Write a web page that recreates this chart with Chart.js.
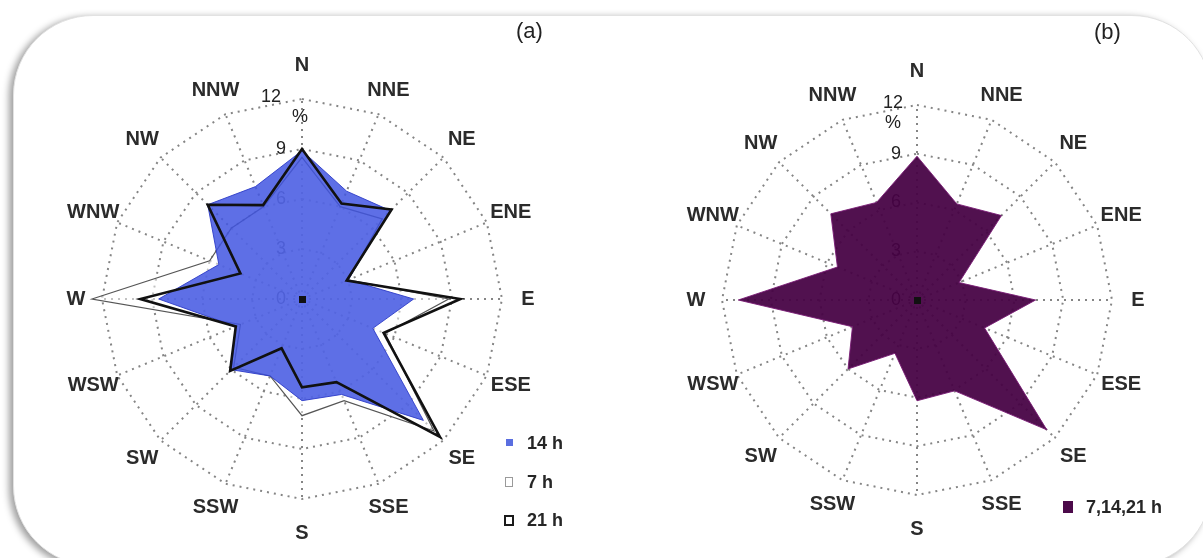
<!DOCTYPE html>
<html>
<head>
<meta charset="utf-8">
<script src="https://cdn.jsdelivr.net/npm/chart.js@4.4.1/dist/chart.umd.min.js"></script>
<style>
  html, body { margin: 0; padding: 0; background: #fff; }
  body { width: 1203px; height: 558px; position: relative; overflow: hidden;
         font-family: "Liberation Sans", Arial, sans-serif; }
  #frame { position: absolute; left: 13px; top: 15px; width: 1197px; height: 549px;
           border-radius: 80px; border: 1px solid #e2e2e2; background: #fff;
           box-shadow: -4px 2px 7px rgba(0,0,0,0.38); }
  canvas { position: absolute; top: 0; }
  #roseA { left: 0; }
  #roseB { left: 601px; }
  .tag { position: absolute; font-size: 22px; color: #222; line-height: 24px; }
  .key { position: absolute; height: 22px; line-height: 22px; font-size: 18px;
         font-weight: bold; color: #262626; white-space: nowrap; }
  .key i { position: absolute; box-sizing: border-box; }
</style>
</head>
<body>
<div id="frame"></div>
<canvas id="roseA" width="601" height="558"></canvas>
<canvas id="roseB" width="602" height="558"></canvas>

<div class="tag" style="left:516px; top:19px;">(a)</div>
<div class="tag" style="left:1094px; top:20px;">(b)</div>

<div class="key" style="left:527px; top:432px;"><i style="left:-21px; top:7px; width:7px; height:7px; background:#5a6ee0;"></i>14 h</div>
<div class="key" style="left:527px; top:471px;"><i style="left:-22px; top:6px; width:8px; height:10px; border:1px solid #9a9a9a; background:#fff;"></i>7 h</div>
<div class="key" style="left:527px; top:509px;"><i style="left:-23px; top:6px; width:10px; height:11px; border:2px solid #1a1a1a;"></i>21 h</div>

<div class="key" style="left:1086px; top:496px;"><i style="left:-23px; top:5px; width:10px; height:12px; background:#4c0a4a;"></i>7,14,21 h</div>

<script>
// wind directions, clockwise from north
const directions = ['N', 'NNE', 'NE', 'ENE', 'E', 'ESE', 'SE', 'SSE',
                    'S', 'SSW', 'SW', 'WSW', 'W', 'WNW', 'NW', 'NNW'];

// frequency (%) per direction, panel (a)
const freq14h = [8.9, 7.0, 7.5, 3.0, 6.7, 4.6, 10.3, 6.2, 6.1, 5.0, 6.0, 4.3, 8.6, 5.4, 8.0, 7.3];
const freq7h  = [8.5, 6.0, 6.8, 3.0, 8.8, 5.4, 11.2, 6.6, 7.0, 5.0, 5.8, 4.0, 12.6, 6.0, 6.0, 6.0];
const freq21h = [9.0, 6.2, 7.6, 2.9, 9.5, 5.3, 11.7, 5.4, 5.3, 3.2, 6.1, 4.3, 9.7, 4.0, 8.0, 6.1];

// panel (b): all observation terms together
const freqAll = [8.85, 6.4, 7.35, 2.8, 7.3, 4.5, 11.3, 6.05, 6.2, 3.55, 6.0, 4.3, 11.0, 5.3, 7.5, 6.5];

const tickValues = [0, 3, 6, 9, 12];
const unitLabel = '%';

// ring values, direction names and the centre marker
const roseDecor = {
  id: 'roseDecor',
  beforeDatasetsDraw(chart, args, opts) {
    const r = chart.scales.r;
    const ctx = chart.ctx;
    ctx.save();
    ctx.font = '18px "Liberation Sans", Arial, sans-serif';
    ctx.fillStyle = '#222';
    ctx.textAlign = 'center';
    ctx.textBaseline = 'middle';
    tickValues.forEach(v => {
      const y = r.yCenter - r.getDistanceFromCenterForValue(v);
      if (v === 12) {
        ctx.fillText(String(v), r.xCenter + opts.topDx, y - 2);
      } else {
        ctx.fillText(String(v), r.xCenter - 21, y);
      }
    });
    ctx.fillText(unitLabel, r.xCenter + opts.unitDx, r.yCenter - r.getDistanceFromCenterForValue(10.9));
    ctx.restore();
  },
  afterDatasetsDraw(chart) {
    const r = chart.scales.r;
    const ctx = chart.ctx;
    ctx.save();
    ctx.fillStyle = '#111';
    ctx.fillRect(r.xCenter - 3, r.yCenter - 3, 7, 7);
    ctx.font = 'bold 20px "Liberation Sans", Arial, sans-serif';
    ctx.fillStyle = '#2b2b2b';
    ctx.textAlign = 'center';
    ctx.textBaseline = 'middle';
    directions.forEach((name, i) => {
      const extra = (i % 8 === 0) ? 8 : 0;
      const p = r.getPointPosition(i, r.drawingArea + 26 + extra);
      ctx.fillText(name, p.x, p.y);
    });
    ctx.restore();
  }
};

function roseOptions(padding, decor) {
  return {
    responsive: false,
    animation: false,
    layout: { padding },
    plugins: {
      legend: { display: false },
      tooltip: { enabled: false },
      roseDecor: decor
    },
    elements: { point: { radius: 0 }, line: { tension: 0 } },
    scales: {
      r: {
        min: 0,
        max: 12,
        ticks: { display: false, stepSize: 3 },
        pointLabels: { display: false },
        grid: { color: '#858585', lineWidth: 2 },
        border: { dash: [2, 5] },
        angleLines: { color: '#858585', lineWidth: 2, borderDash: [2, 5] }
      }
    }
  };
}

new Chart(document.getElementById('roseA'), {
  type: 'radar',
  data: {
    labels: directions,
    datasets: [
      { label: '21 h', data: freq21h, order: 0, fill: false,
        borderColor: '#111', borderWidth: 2.6, backgroundColor: 'transparent' },
      { label: '14 h', data: freq14h, order: 1, fill: true,
        backgroundColor: 'rgba(66,86,226,0.85)', borderColor: 'rgba(45,60,200,0.9)', borderWidth: 1 },
      { label: '7 h', data: freq7h, order: 2, fill: true,
        backgroundColor: 'rgba(255,255,255,0.5)', borderColor: '#555', borderWidth: 1.2 }
    ]
  },
  options: roseOptions({ left: 102, right: 99, top: 99, bottom: 59 }, { topDx: -31, unitDx: -2 }),
  plugins: [roseDecor]
});

new Chart(document.getElementById('roseB'), {
  type: 'radar',
  data: {
    labels: directions,
    datasets: [
      { label: '7,14,21 h', data: freqAll, fill: true,
        backgroundColor: 'rgba(70,2,68,0.94)', borderColor: 'rgba(120,25,115,0.9)', borderWidth: 1 }
    ]
  },
  options: roseOptions({ left: 121, right: 91, top: 105, bottom: 63 }, { topDx: -24, unitDx: -24 }),
  plugins: [roseDecor]
});
</script>
</body>
</html>
